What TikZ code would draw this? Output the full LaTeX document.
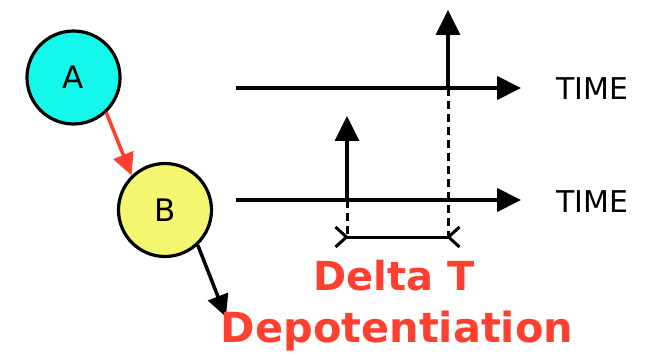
\documentclass[tikz,border=0pt]{standalone}
\usepackage{fontspec}
\setmainfont{DejaVu Sans}
\usetikzlibrary{arrows.meta, positioning}

\definecolor{cyanfill}{RGB}{20,247,235}
\definecolor{yellowfill}{RGB}{243,246,110}
\definecolor{redink}{RGB}{255,64,48}

\begin{document}
\begin{tikzpicture} [x=1pt, y=-1pt,
        cell/.style = {circle, draw, line width=3.2pt, minimum size=93pt, inner sep=0pt, font=\fontsize{31}{36}\selectfont},
        link/.style = {line width=3.5pt, -{Triangle[length=22pt, width=21pt]}},
        axis/.style = {line width=4pt, -{Triangle[length=24pt, width=23pt]}},
        spike/.style = {line width=3.5pt, -{Triangle[length=25pt, width=24pt]}},
        guide/.style = {line width=3pt, dash pattern=on 8pt off 5pt},
        timelabel/.style = {anchor=base, font=\fontsize{30}{36}\selectfont},
        redlabel/.style = {anchor=base, text=redink, font=\fontsize{40}{48}\selectfont\bfseries}]
    \useasboundingbox (0,0) rectangle (647,358);

    % the two cells
    \node (A) [cell, fill=cyanfill] at (73.5,77.5) {A};
    \node (B) [cell, fill=yellowfill] at (165,210) {B};
    \coordinate (out) at (226,317);

    \path [link, redink] (A.-47) edge (B.134);
    \path [link] (B.-47) edge (out);

    % time axes
    \coordinate (ta) at (236,88);
    \coordinate (ta end) at (521,88);
    \coordinate (tb) at (236,200);
    \coordinate (tb end) at (521,200);
    \draw [axis] (ta) -- (ta end);
    \draw [axis] (tb) -- (tb end);
    \node (time a) [timelabel] at (592,100) {TIME};
    \node (time b) [timelabel] at (592,212) {TIME};

    % spikes
    \coordinate (sa) at (448,88);
    \coordinate (sa top) at (448,10);
    \coordinate (sb) at (347,200);
    \coordinate (sb top) at (347,116);
    \draw [spike] (sa) -- (sa top);
    \draw [spike] (sb) -- (sb top);

    % interval between the spikes
    \coordinate (da) at (448,237);
    \coordinate (db) at (347,237);
    \draw [guide] (sa) -- (da);
    \draw [guide] (sb) -- (db);
    \coordinate (dl) at (334,237);
    \coordinate (dr) at (461,237);
    \draw [line width=3pt, {Straight Barb[reversed, length=11pt, width=20pt]}-{Straight Barb[reversed, length=11pt, width=20pt]}] (dl) -- (dr);

    \node (delta) [redlabel] at (394,290) {Delta T};
    \node (depot) [redlabel, font=\fontsize{41.5}{48}\selectfont\bfseries] at (397,342) {Depotentiation};
\end{tikzpicture}
\end{document}
